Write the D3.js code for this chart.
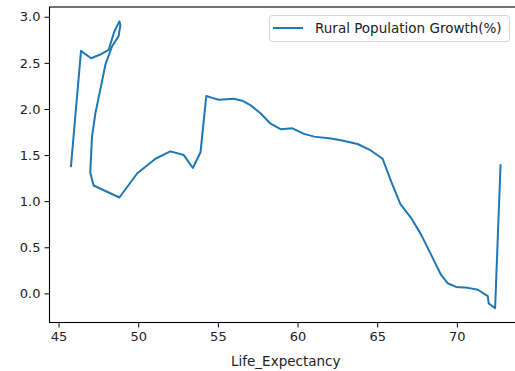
<!DOCTYPE html>
<html>
<head>
<meta charset="utf-8">
<script src="https://cdn.jsdelivr.net/npm/d3@7"></script>
<style>
  body { margin: 0; background: #fff; }
  svg { display: block; font-family: "DejaVu Sans", sans-serif; }
</style>
</head>
<body>
<div id="chart"></div>
<script>
// values, in the order the line is drawn
var lifeExpectancy = [45.78, 46.41, 47.04, 47.62, 48.14, 48.50, 48.82, 48.88, 48.77, 48.36,
  47.94, 47.62, 47.31, 47.10, 46.99, 47.20, 48.82, 49.93, 51.08, 52.02,
  52.86, 53.43, 53.91, 54.27, 54.65, 55.06, 56.00, 56.53, 57.06, 57.69,
  58.31, 58.94, 59.68, 60.41, 61.04, 62.09, 62.72, 63.77, 64.60, 65.34,
  65.86, 66.45, 67.12, 67.75, 68.38, 69.01, 69.43, 69.95, 70.69, 71.32,
  71.94, 72.00, 72.40, 72.74];
var ruralGrowth = [1.38, 2.63, 2.55, 2.59, 2.64, 2.84, 2.95, 2.91, 2.79, 2.68,
  2.48, 2.21, 1.95, 1.70, 1.31, 1.17, 1.04, 1.30, 1.46, 1.54,
  1.50, 1.36, 1.53, 2.14, 2.12, 2.10, 2.11, 2.09, 2.04, 1.95,
  1.84, 1.78, 1.79, 1.73, 1.70, 1.68, 1.66, 1.62, 1.55, 1.46,
  1.22, 0.97, 0.82, 0.64, 0.42, 0.20, 0.11, 0.07, 0.06, 0.04,
  -0.03, -0.11, -0.16, 1.39];
var xTicks = [45, 50, 55, 60, 65, 70];
var yTicks = [0.0, 0.5, 1.0, 1.5, 2.0, 2.5, 3.0];
var seriesName = "Rural Population Growth(%)";
var xLabel = "Life_Expectancy";

var width = 515, height = 371;
var margin = {top: 7, left: 49.5, bottom: 322.5, right: 522};

var data = lifeExpectancy.map(function(d, i) { return {x: d, y: ruralGrowth[i]}; });

// matplotlib style 5% margins
var xExt = d3.extent(lifeExpectancy), yExt = d3.extent(ruralGrowth);
var xPad = (xExt[1] - xExt[0]) * 0.05, yPad = (yExt[1] - yExt[0]) * 0.05;

var x = d3.scaleLinear()
  .domain([xExt[0] - xPad, xExt[1] + xPad])
  .range([margin.left, margin.right]);
var y = d3.scaleLinear()
  .domain([yExt[0] - yPad, yExt[1] + yPad])
  .range([margin.bottom, margin.top]);

var svg = d3.select("#chart").append("svg")
  .attr("width", width)
  .attr("height", height);

// the line
svg.append("path")
  .datum(data)
  .attr("fill", "none")
  .attr("stroke", "#1f77b4")
  .attr("stroke-width", 2)
  .attr("stroke-linejoin", "round")
  .attr("stroke-linecap", "square")
  .attr("d", d3.line()
    .x(function(d) { return x(d.x); })
    .y(function(d) { return y(d.y); }));

// axes
var xAxis = svg.append("g")
  .attr("transform", "translate(0," + margin.bottom + ")")
  .call(d3.axisBottom(x).tickValues(xTicks).tickFormat(d3.format("d")).tickSize(5).tickPadding(4));
var yAxis = svg.append("g")
  .attr("transform", "translate(" + margin.left + ",0)")
  .call(d3.axisLeft(y).tickValues(yTicks).tickFormat(d3.format(".1f")).tickSize(5).tickPadding(4));

[xAxis, yAxis].forEach(function(g) {
  g.select(".domain").remove();
  g.selectAll("line").attr("stroke", "#000").attr("stroke-width", 1);
  g.selectAll("text").attr("fill", "#222").style("font-size", "13px")
    .style("font-family", "DejaVu Sans, sans-serif");
});

// spines (right one falls outside the picture)
svg.append("rect")
  .attr("x", margin.left)
  .attr("y", margin.top)
  .attr("width", margin.right - margin.left)
  .attr("height", margin.bottom - margin.top)
  .attr("fill", "none")
  .attr("stroke", "#000")
  .attr("stroke-width", 1.1);

svg.append("text")
  .attr("x", (margin.left + margin.right) / 2)
  .attr("y", 366)
  .attr("text-anchor", "middle")
  .attr("fill", "#222")
  .style("font-size", "13.5px")
  .text(xLabel);

// legend
var legend = svg.append("g");
legend.append("rect")
  .attr("x", 269.5).attr("y", 15.5)
  .attr("width", 240).attr("height", 26)
  .attr("rx", 3)
  .attr("fill", "#fff").attr("fill-opacity", 0.8)
  .attr("stroke", "#d5d5d5");
legend.append("line")
  .attr("x1", 273).attr("x2", 303)
  .attr("y1", 28).attr("y2", 28)
  .attr("stroke", "#1f77b4").attr("stroke-width", 2);
legend.append("text")
  .attr("x", 315).attr("y", 33)
  .attr("fill", "#222")
  .style("font-size", "13.5px")
  .text(seriesName);
</script>
</body>
</html>
